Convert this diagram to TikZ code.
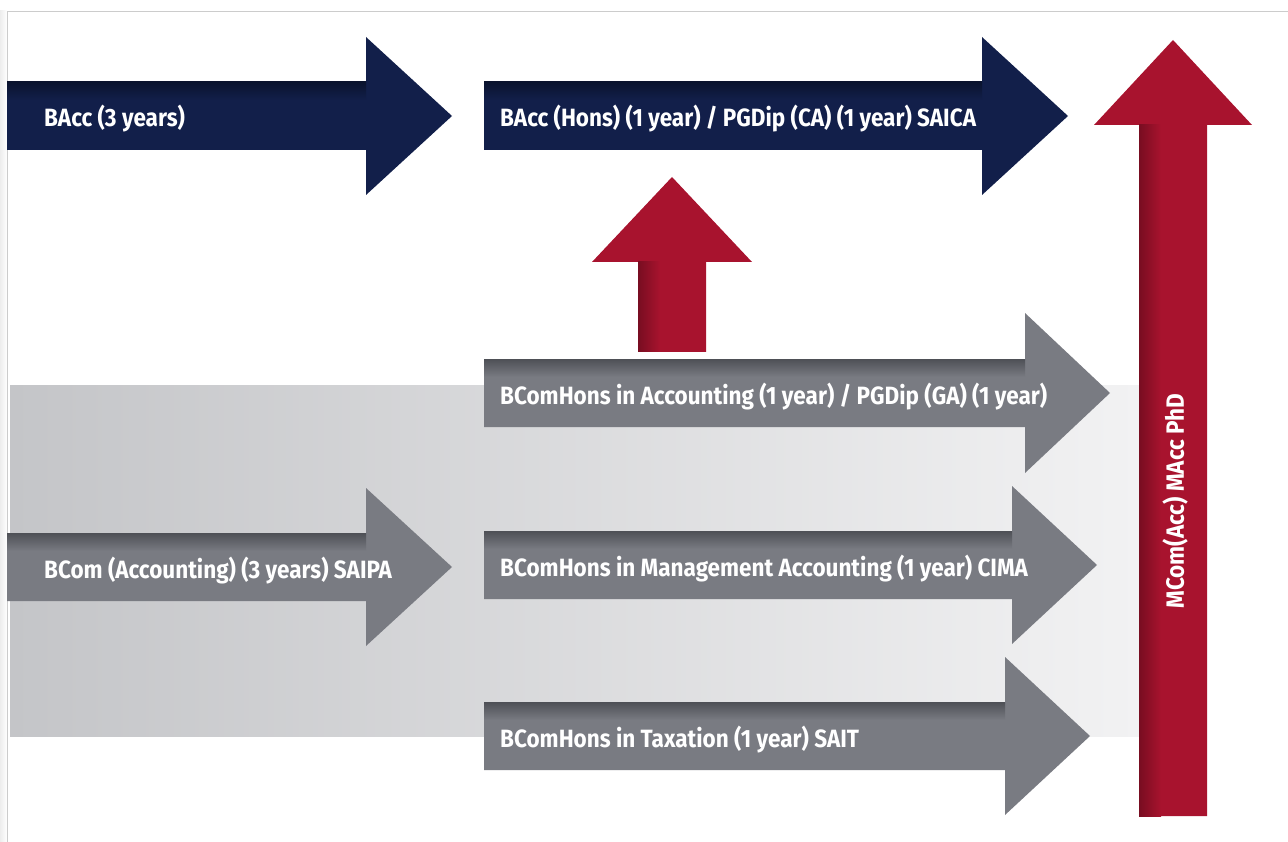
\documentclass[tikz,border=0pt]{standalone}
\usepackage{fontspec}
\setmainfont{Fira Sans}[FakeStretch=0.9]
\definecolor{navy}{HTML}{121F4A}
\definecolor{navydark}{HTML}{0A132E}
\definecolor{slate}{HTML}{797B82}
\definecolor{slatedark}{HTML}{4E5056}
\definecolor{wine}{HTML}{A8132E}
\definecolor{winedark}{HTML}{780D21}
\definecolor{bandleft}{HTML}{C4C5C8}
\definecolor{bandright}{HTML}{F2F2F3}
\definecolor{frame}{HTML}{CCCCCC}
\tikzset{
	navyarrow/.style={fill=navy},
	slatearrow/.style={fill=slate},
	winearrow/.style={fill=wine},
	navyshadow/.style={top color=navydark, bottom color=navy},
	slateshadow/.style={top color=slatedark, bottom color=slate},
	wineshadow/.style={left color=winedark, right color=wine},
	label/.style={text=white, font=\fontsize{25}{29}\selectfont\bfseries, inner sep=0pt},
}
\begin{document}
\begin{tikzpicture}[x=1pt, y=-1pt]
	\useasboundingbox (0,0) rectangle (1288,842);
	\shade[left color=black!7, right color=white] (0,11) rectangle (7,842);
	\draw[frame] (7,842) -- (7,11) -- (1288,11);
	\shade[left color=bandleft, right color=bandright] (10,385) rectangle (1140,736);

	\fill[navyarrow] (7,82) -- (366,82) -- (366,37) -- (452,116) -- (366,195) -- (366,150) -- (7,150) -- cycle;
	\shade[navyshadow] (7,82) rectangle (366,100);
	\node[label, anchor=base west] (bacc) at (44,127) {BAcc (3 years)};
	\fill[navyarrow] (484,82) -- (982,82) -- (982,37) -- (1068,116) -- (982,195) -- (982,150) -- (484,150) -- cycle;
	\shade[navyshadow] (484,82) rectangle (982,100);
	\node[label, anchor=base west] (hons) at (500,127) {BAcc (Hons) (1 year) / PGDip (CA) (1 year) SAICA};

	\fill[winearrow] (638,352) -- (638,262) -- (592,262) -- (672,177) -- (752,262) -- (706,262) -- (706,352) -- cycle;
	\shade[wineshadow] (638,262) rectangle (660,352);

	\fill[slatearrow] (484,359) -- (1025,359) -- (1025,313) -- (1110,393) -- (1025,473) -- (1025,427) -- (484,427) -- cycle;
	\shade[slateshadow] (484,359) rectangle (1025,377);
	\node[label, anchor=base west] (acc) at (500,404) {BComHons in Accounting (1 year) / PGDip (GA) (1 year)};
	\fill[slatearrow] (7,533) -- (366,533) -- (366,488) -- (452,567) -- (366,646) -- (366,601) -- (7,601) -- cycle;
	\shade[slateshadow] (7,533) rectangle (366,551);
	\node[label, anchor=base west] (bcom) at (44,578) {BCom (Accounting) (3 years) SAIPA};
	\fill[slatearrow] (484,531) -- (1012,531) -- (1012,486) -- (1097,565) -- (1012,644) -- (1012,599) -- (484,599) -- cycle;
	\shade[slateshadow] (484,531) rectangle (1012,549);
	\node[label, anchor=base west] (mgmt) at (500,576) {BComHons in Management Accounting (1 year) CIMA};
	\fill[slatearrow] (484,702) -- (1005,702) -- (1005,657) -- (1090,736) -- (1005,815) -- (1005,770) -- (484,770) -- cycle;
	\shade[slateshadow] (484,702) rectangle (1005,720);
	\node[label, anchor=base west] (tax) at (500,747) {BComHons in Taxation (1 year) SAIT};

	\fill[winearrow] (1139,816) -- (1139,125) -- (1094,125) -- (1173,40) -- (1252,125) -- (1207,125) -- (1207,816) -- cycle;
	\shade[wineshadow] (1139,125) rectangle (1161,816);
	\node[label, rotate=90] (mcom) at (1175,501) {MCom(Acc) MAcc PhD};
\end{tikzpicture}
\end{document}
